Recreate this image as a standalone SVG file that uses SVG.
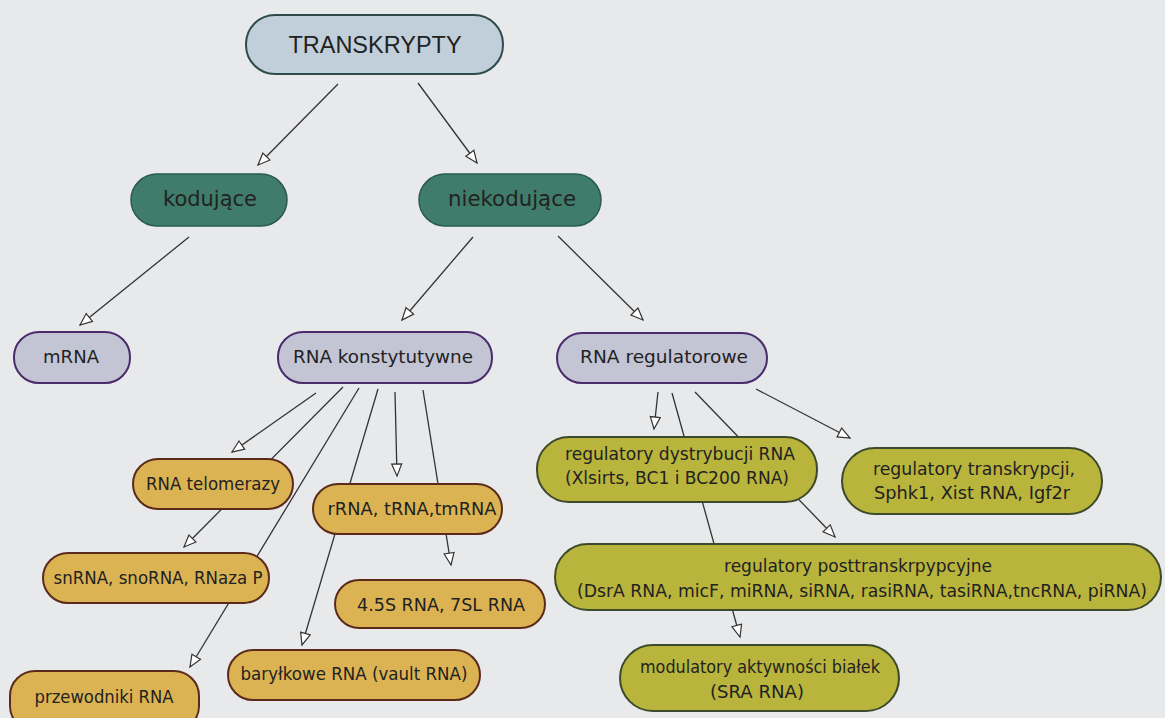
<svg xmlns="http://www.w3.org/2000/svg" width="1165" height="718" viewBox="0 0 1165 718">
<style>
.t{font-family:"DejaVu Sans","Liberation Sans",sans-serif;font-size:17px;fill:#222;text-anchor:middle;dominant-baseline:central}
.top{fill:#c1cfdb;stroke:#2f4a4a;stroke-width:2}
.grn{fill:#3f7c6a;stroke:#2c5a4e;stroke-width:1.5}
.prp{fill:#c3c5d5;stroke:#4a2b6b;stroke-width:2}
.org{fill:#dcb352;stroke:#5a2a1c;stroke-width:2}
.olv{fill:#b9b43c;stroke:#3b4a2a;stroke-width:2}
.c line{stroke:#333;stroke-width:1.3;marker-end:url(#ah)}
</style>
<defs>
<marker id="ah" markerUnits="userSpaceOnUse" markerWidth="16" markerHeight="14" refX="13" refY="6" orient="auto">
<path d="M1,1 L13,6 L1,11 z" fill="#fff" stroke="#333" stroke-width="1.2"/>
</marker>
</defs>
<rect width="1165" height="718" fill="#e8e9eb"/>
<g class="c" id="connectors">
<line x1="338" y1="84" x2="258" y2="165"/>
<line x1="418" y1="83" x2="477" y2="163"/>
<line x1="189" y1="237" x2="80" y2="325"/>
<line x1="473" y1="237" x2="402" y2="320"/>
<line x1="558" y1="236" x2="643" y2="320"/>
<line x1="316" y1="393" x2="232" y2="452"/>
<line x1="343" y1="387" x2="184" y2="547"/>
<line x1="359" y1="388" x2="190" y2="667"/>
<line x1="378" y1="389" x2="302" y2="645"/>
<line x1="395" y1="392" x2="397" y2="476"/>
<line x1="423" y1="390" x2="451" y2="565"/>
<line x1="658" y1="392" x2="654" y2="429"/>
<line x1="672" y1="393" x2="740" y2="637"/>
<line x1="695" y1="392" x2="835" y2="537"/>
<line x1="756" y1="389" x2="850" y2="438"/>
</g>
<g id="transkrypty"><rect class="top" x="246" y="15" width="257" height="59" rx="29"/><text class="t" x="375" y="45" style="font-family:'Liberation Sans',sans-serif;font-size:23.5px">TRANSKRYPTY</text></g>
<g id="kodujace"><rect class="grn" x="131" y="174" width="156" height="52" rx="26"/><text class="t" x="210" y="199" style="font-size:21px" textLength="94" lengthAdjust="spacingAndGlyphs">kodujące</text></g>
<g id="niekodujace"><rect class="grn" x="419" y="174" width="182" height="52" rx="26"/><text class="t" x="512" y="199" style="font-size:21px" textLength="128" lengthAdjust="spacingAndGlyphs">niekodujące</text></g>
<g id="mrna"><rect class="prp" x="14" y="332" width="116" height="51" rx="25"/><text class="t" x="71" y="357" textLength="56" lengthAdjust="spacingAndGlyphs">mRNA</text></g>
<g id="konstytutywne"><rect class="prp" x="278" y="332" width="214" height="51" rx="25"/><text class="t" x="383" y="357" textLength="180" lengthAdjust="spacingAndGlyphs">RNA konstytutywne</text></g>
<g id="regulatorowe"><rect class="prp" x="557" y="333" width="210" height="50" rx="25"/><text class="t" x="664" y="357" textLength="168" lengthAdjust="spacingAndGlyphs">RNA regulatorowe</text></g>
<g id="telomerazy"><rect class="org" x="133" y="459" width="160" height="50" rx="25"/><text class="t" x="213" y="484" textLength="134" lengthAdjust="spacingAndGlyphs">RNA telomerazy</text></g>
<g id="rrna"><rect class="org" x="313" y="484" width="189" height="50" rx="25"/><text class="t" x="412" y="509" textLength="169" lengthAdjust="spacingAndGlyphs">rRNA, tRNA,tmRNA</text></g>
<g id="snrna"><rect class="org" x="43" y="553" width="226" height="50" rx="25"/><text class="t" x="158" y="578" textLength="209" lengthAdjust="spacingAndGlyphs">snRNA, snoRNA, RNaza P</text></g>
<g id="rna45"><rect class="org" x="335" y="580" width="210" height="48" rx="24"/><text class="t" x="441" y="605" textLength="168" lengthAdjust="spacingAndGlyphs">4.5S RNA, 7SL RNA</text></g>
<g id="barylkowe"><rect class="org" x="228" y="650" width="252" height="50" rx="25"/><text class="t" x="354" y="674" textLength="227" lengthAdjust="spacingAndGlyphs">baryłkowe RNA (vault RNA)</text></g>
<g id="przewodniki"><rect class="org" x="10" y="671" width="189" height="60" rx="25"/><text class="t" x="104" y="697" textLength="139" lengthAdjust="spacingAndGlyphs">przewodniki RNA</text></g>
<g id="dystrybucji"><rect class="olv" x="537" y="437" width="280" height="65" rx="32"/><text class="t" x="680" y="454" textLength="230" lengthAdjust="spacingAndGlyphs">regulatory dystrybucji RNA</text><text class="t" x="677" y="478" textLength="224" lengthAdjust="spacingAndGlyphs">(Xlsirts, BC1 i BC200 RNA)</text></g>
<g id="transkrypcji"><rect class="olv" x="842" y="448" width="260" height="66" rx="33"/><text class="t" x="974" y="469" textLength="202" lengthAdjust="spacingAndGlyphs">regulatory transkrypcji,</text><text class="t" x="972" y="493" textLength="196" lengthAdjust="spacingAndGlyphs">Sphk1, Xist RNA, Igf2r</text></g>
<g id="posttranskr"><rect class="olv" x="555" y="544" width="606" height="66" rx="33"/><text class="t" x="858" y="566" textLength="268" lengthAdjust="spacingAndGlyphs">regulatory posttranskrpypcyjne</text><text class="t" x="862" y="591" textLength="570" lengthAdjust="spacingAndGlyphs">(DsrA RNA, micF, miRNA, siRNA, rasiRNA, tasiRNA,tncRNA, piRNA)</text></g>
<g id="modulatory"><rect class="olv" x="620" y="645" width="279" height="66" rx="33"/><text class="t" x="760" y="667" textLength="240" lengthAdjust="spacingAndGlyphs">modulatory aktywności białek</text><text class="t" x="757" y="692" textLength="94" lengthAdjust="spacingAndGlyphs">(SRA RNA)</text></g>
</svg>
